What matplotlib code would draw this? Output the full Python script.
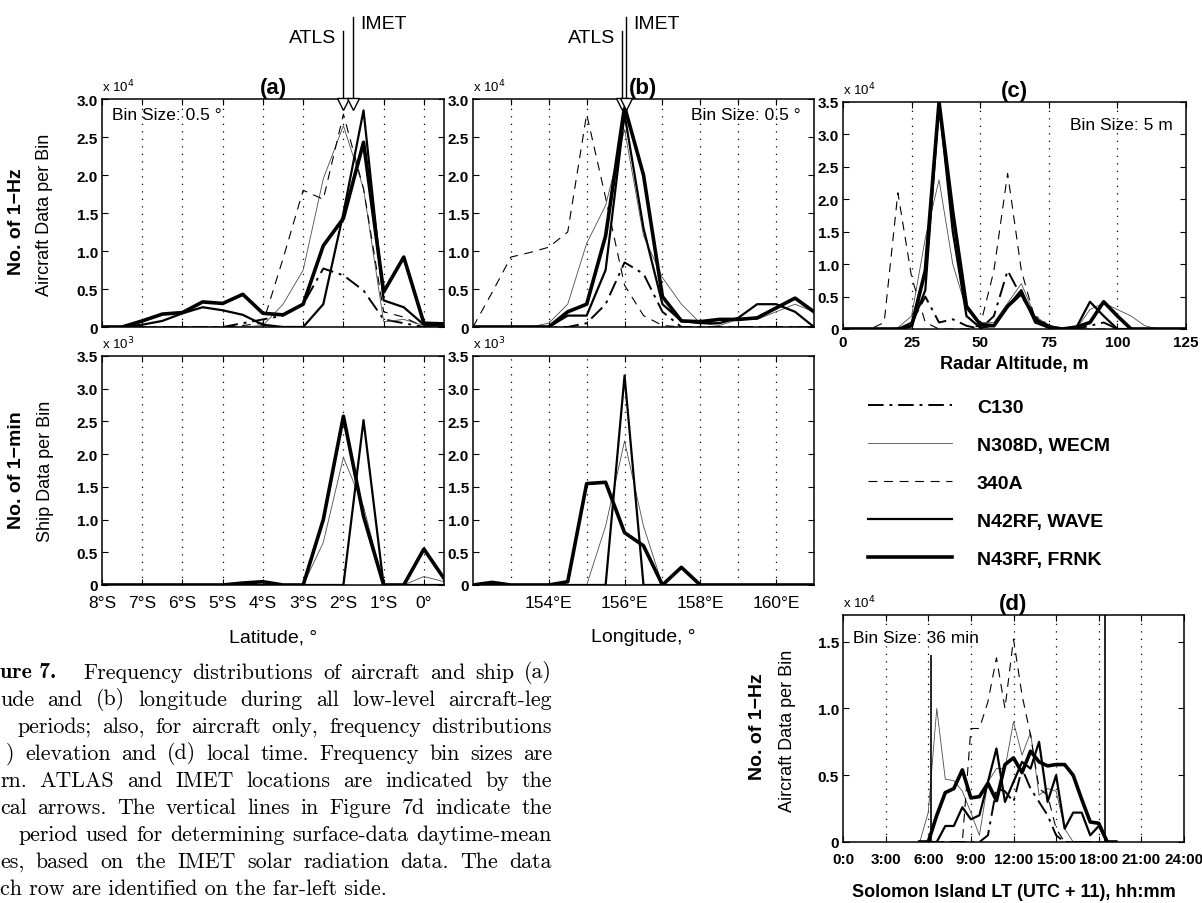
import matplotlib
matplotlib.use('Agg')
import matplotlib.pyplot as plt
import numpy as np

plt.rcParams['font.family'] = ['Liberation Sans', 'DejaVu Sans']

W, H = 1202, 904

# ---------------- data ----------------
names = ['C130', 'N308D, WECM', '340A', 'N42RF, WAVE', 'N43RF, FRNK']

# (a) latitude, aircraft, x10^4 per 0.5 deg bin
lat_bins = [-8, -7.5, -7, -6.5, -6, -5.5, -5, -4.5, -4, -3.5, -3, -2.5, -2, -1.5, -1, -0.5, 0, 0.5]
c130_lat = [0, 0, 0, 0, 0, 0, 0, 0.05, 0.1, 0.15, 0.3, 0.77, 0.68, 0.48, 0.1, 0.05, 0, 0]
n308_lat = [0, 0, 0, 0, 0, 0, 0, 0, 0.02, 0.3, 0.75, 1.95, 2.65, 1.82, 0.07, 0.1, 0.02, 0]
a340_lat = [0, 0, 0, 0, 0, 0, 0, 0.02, 0.05, 0.9, 1.8, 1.68, 2.8, 1.82, 0.2, 0.13, 0, 0]
n42_lat = [0, 0, 0.03, 0.08, 0.18, 0.26, 0.22, 0.16, 0.03, 0, 0, 0.3, 1.5, 2.85, 0.35, 0.26, 0.03, 0.02]
n43_lat = [0, 0, 0.08, 0.17, 0.19, 0.33, 0.31, 0.43, 0.18, 0.16, 0.3, 1.07, 1.43, 2.43, 0.46, 0.92, 0.05, 0.04]

# (b) longitude, aircraft, x10^4
lon_bins = [152, 152.5, 153, 153.5, 154, 154.5, 155, 155.5, 156, 156.5, 157, 157.5,
            158, 158.5, 159, 159.5, 160, 160.5, 161]
c130_lon = [0, 0, 0, 0, 0, 0, 0.05, 0.3, 0.85, 0.7, 0.2, 0, 0, 0, 0, 0, 0, 0, 0]
n308_lon = [0, 0, 0, 0, 0.05, 0.3, 1.1, 1.6, 2.6, 1.2, 0.65, 0.3, 0.05, 0.02, 0.1, 0.1, 0.2, 0.3, 0.2]
a340_lon = [0, 0.45, 0.92, 0.98, 1.05, 1.25, 2.8, 1.7, 0.55, 0.15, 0.02, 0, 0, 0, 0, 0, 0, 0, 0]
n42_lon = [0, 0, 0, 0, 0, 0.15, 0.15, 0.75, 2.8, 1.3, 0.3, 0.08, 0.05, 0.05, 0.12, 0.3, 0.3, 0.2, 0]
n43_lon = [0, 0, 0, 0, 0, 0.2, 0.3, 1.2, 2.9, 2.0, 0.4, 0.08, 0.07, 0.1, 0.1, 0.12, 0.25, 0.38, 0.2]

# (c) radar altitude, aircraft, x10^4 per 5 m bin
alt_bins = [0, 5, 10, 15, 20, 25, 30, 35, 40, 45, 50, 55, 60, 65, 70, 75, 80, 85, 90, 95,
            100, 105, 110, 115, 120, 125]
c130_alt = [0, 0, 0, 0, 0, 0.1, 0.5, 0.1, 0.15, 0.05, 0, 0.2, 0.9, 0.5, 0.2, 0.05, 0, 0,
            0.05, 0.1, 0, 0, 0, 0, 0, 0]
n308_alt = [0, 0, 0, 0, 0.02, 0.2, 1.4, 2.3, 1.0, 0.3, 0.1, 0.1, 0.4, 0.7, 0.2, 0.05, 0, 0,
            0.3, 0.4, 0.3, 0.2, 0.05, 0, 0, 0]
a340_alt = [0, 0, 0, 0.1, 2.1, 0.8, 0.1, 0, 0, 0, 0.05, 0.9, 2.4, 0.9, 0.15, 0, 0, 0,
            0, 0, 0, 0, 0, 0, 0, 0]
n42_alt = [0, 0, 0, 0, 0, 0.05, 0.6, 3.5, 1.5, 0.2, 0.02, 0.05, 0.35, 0.6, 0.1, 0.02, 0, 0.02,
           0.42, 0.2, 0, 0, 0, 0, 0, 0]
n43_alt = [0, 0, 0, 0, 0, 0.05, 0.9, 3.5, 1.8, 0.35, 0.07, 0.05, 0.35, 0.55, 0.15, 0.03, 0, 0.03,
           0.1, 0.42, 0.2, 0, 0, 0, 0, 0]

# ship data, x10^3 per bin (three ship traces: thin / medium / thick)
ship_thin_lat = [0, 0, 0, 0, 0, 0, 0, 0, 0, 0, 0, 0.65, 1.95, 1.2, 0, 0, 0.13, 0.05]
ship_mid_lat = [0, 0, 0, 0, 0, 0, 0, 0, 0, 0, 0, 0, 0, 2.52, 0, 0, 0, 0]
ship_thick_lat = [0, 0, 0, 0, 0, 0, 0, 0.03, 0.05, 0, 0, 1.0, 2.58, 1.05, 0, 0, 0.55, 0.1]
ship_thin_lon = [0, 0, 0, 0, 0, 0, 0, 0.9, 2.2, 0.9, 0, 0, 0, 0, 0, 0, 0, 0, 0]
ship_mid_lon = [0, 0, 0, 0, 0, 0, 0, 0, 3.2, 0, 0, 0, 0, 0, 0, 0, 0, 0, 0]
ship_thick_lon = [0, 0.04, 0, 0, 0, 0.05, 1.55, 1.57, 0.8, 0.6, 0, 0.27, 0, 0, 0, 0, 0, 0, 0]

# (d) local time (hours), aircraft, x10^4 per 36 min bin
time_bins = [5.4, 6.0, 6.6, 7.2, 7.8, 8.4, 9.0, 9.6, 10.2, 10.8, 11.4, 12.0, 12.6, 13.2,
             13.8, 14.4, 15.0, 15.6, 16.2, 16.8, 17.4, 18.0, 18.6, 19.2]
c130_t = [0, 0, 0, 0, 0, 0, 0, 0, 0.05, 0.4, 0.38, 0.3, 0.55, 0.4, 0.3, 0.2, 0.05, 0, 0, 0, 0, 0, 0, 0]
n308_t = [0, 0.22, 1.0, 0.47, 0.46, 0.38, 0.22, 0.05, 0.45, 0.55, 0.55, 0.9, 0.65, 0.82,
          0.35, 0.4, 0.38, 0.1, 0, 0, 0, 0, 0, 0]
a340_t = [0, 0, 0, 0, 0, 0, 0.85, 0.85, 1.05, 1.38, 1.0, 1.52, 1.1, 0.8, 0.4, 0.35, 0.1, 0,
          0, 0, 0, 0, 0, 0]
n42_t = [0, 0, 0, 0.12, 0.12, 0.26, 0.17, 0.2, 0.45, 0.7, 0.3, 0.45, 0.6, 0.55, 0.75, 0.3,
         0.5, 0.1, 0.22, 0.22, 0.05, 0.12, 0, 0]
n43_t = [0, 0, 0.2, 0.37, 0.4, 0.54, 0.33, 0.34, 0.44, 0.31, 0.58, 0.63, 0.52, 0.68, 0.6,
         0.57, 0.58, 0.58, 0.5, 0.32, 0.15, 0.14, 0, 0]
day_start, day_start_top, day_end = 6.2, 1.4, 18.45

atls_lat, imet_lat = -2.0, -1.75
atls_lon, imet_lon = 155.94, 156.04

# ---------------- styles ----------------
styles = [
    dict(color='k', lw=1.4, ls=(0, (8, 3, 1.5, 3))),   # C130
    dict(color='0.3', lw=0.6, ls='-'),                 # N308D
    dict(color='k', lw=0.8, ls=(0, (8, 6))),           # 340A
    dict(color='k', lw=1.6, ls='-'),                   # N42RF
    dict(color='k', lw=2.6, ls='-'),                   # N43RF
]
ship_styles = [styles[1], styles[3], styles[4]]
DOT = (0, (1, 5))

fig = plt.figure(figsize=(W / 100, H / 100), dpi=100)


def px_axes(l, t, r, b):
    return fig.add_axes([l / W, 1 - b / H, (r - l) / W, (b - t) / H])


def dress(ax, xlim, ylim, yticks, xgrid, xticks=None, xlabels=None, mult=None):
    ax.set_xlim(*xlim)
    ax.set_ylim(*ylim)
    ax.set_yticks(yticks)
    ax.set_yticklabels(['0' if v == 0 else f'{v:.1f}' for v in yticks],
                       fontsize=11, fontweight='bold')
    ax.set_xticks(xticks if xticks is not None else xgrid)
    if xlabels is None:
        ax.set_xticklabels([])
    else:
        ax.set_xticklabels(xlabels, fontsize=12.5)
    for g in xgrid:
        ax.axvline(g, color='k', lw=0.9, ls=DOT, zorder=0)
    ax.tick_params(direction='in', length=4, width=0.8, top=True, right=True, pad=3)
    ax.tick_params(axis='x', pad=7)
    for s in ax.spines.values():
        s.set_linewidth(1.1)
    if mult:
        ax.text(0.0, 1.02, 'x 10$^{%d}$' % mult, transform=ax.transAxes,
                fontsize=9.5, ha='left', va='bottom')


def station(ax, x, top, label, side):
    tr = ax.get_xaxis_transform()
    ax.plot([x, x], [1.0, top], color='k', lw=1.0, transform=tr, clip_on=False)
    ax.plot([x], [0.978], marker='v', ms=8, mfc='white', mec='k', mew=1.0,
            transform=tr, clip_on=False, zorder=5)
    dx = -5 if side == 'left' else 5
    ax.annotate(label, (x, top - 0.03), xycoords=tr, xytext=(dx, 0), textcoords='offset points',
                ha='right' if side == 'left' else 'left', va='center', fontsize=14,
                annotation_clip=False)


# ---- (a) latitude, aircraft ----
ax_a = px_axes(102, 100, 444, 328)
for vals, st, nm in zip([c130_lat, n308_lat, a340_lat, n42_lat, n43_lat], styles, names):
    ax_a.plot(lat_bins, vals, label=nm, **st)
dress(ax_a, (-8, 0.5), (0, 3.0), [0, 0.5, 1.0, 1.5, 2.0, 2.5, 3.0], range(-7, 1),
      xticks=range(-8, 1), mult=4)
ax_a.text(0.03, 0.93, 'Bin Size: 0.5 °', transform=ax_a.transAxes, fontsize=12.5, va='center')
ax_a.set_title('(a)', fontsize=16, fontweight='bold', pad=4)
station(ax_a, atls_lat, 1.30, 'ATLS', 'left')
station(ax_a, imet_lat, 1.36, 'IMET', 'right')

# ---- (b) longitude, aircraft ----
ax_b = px_axes(473, 100, 814, 328)
for vals, st in zip([c130_lon, n308_lon, a340_lon, n42_lon, n43_lon], styles):
    ax_b.plot(lon_bins, vals, **st)
dress(ax_b, (152, 161), (0, 3.0), [0, 0.5, 1.0, 1.5, 2.0, 2.5, 3.0], range(153, 161), mult=4)
ax_b.text(0.96, 0.93, 'Bin Size: 0.5 °', transform=ax_b.transAxes, fontsize=12.5,
          va='center', ha='right')
ax_b.set_title('(b)', fontsize=16, fontweight='bold', pad=4)
station(ax_b, atls_lon, 1.30, 'ATLS', 'left')
station(ax_b, imet_lon, 1.36, 'IMET', 'right')

# ---- (c) radar altitude ----
ax_c = px_axes(843, 103, 1186, 330)
for vals, st in zip([c130_alt, n308_alt, a340_alt, n42_alt, n43_alt], styles):
    ax_c.plot(alt_bins, vals, **st)
dress(ax_c, (0, 125), (0, 3.5), [0, 0.5, 1.0, 1.5, 2.0, 2.5, 3.0, 3.5], [25, 50, 75, 100],
      xticks=[0, 25, 50, 75, 100, 125], xlabels=['0', '25', '50', '75', '100', '125'], mult=4)
ax_c.tick_params(axis='x', labelsize=11, pad=4)
for t in ax_c.get_xticklabels():
    t.set_fontweight('bold')
ax_c.text(0.96, 0.9, 'Bin Size: 5 m', transform=ax_c.transAxes, fontsize=12.5,
          va='center', ha='right')
ax_c.set_title('(c)', fontsize=16, fontweight='bold', pad=4)
fig.text(1014 / W, 1 - 364 / H, 'Radar Altitude, m', ha='center', va='center',
         fontsize=13, fontweight='bold')

# ---- ship rows ----
ax_sa = px_axes(102, 357, 444, 586)
for vals, st in zip([ship_thin_lat, ship_mid_lat, ship_thick_lat], ship_styles):
    ax_sa.plot(lat_bins, vals, **st)
dress(ax_sa, (-8, 0.5), (0, 3.5), [0, 0.5, 1.0, 1.5, 2.0, 2.5, 3.0, 3.5], range(-7, 1),
      xticks=range(-8, 1),
      xlabels=['8°S', '7°S', '6°S', '5°S', '4°S', '3°S', '2°S', '1°S', '0°'], mult=3)

ax_sb = px_axes(473, 357, 814, 586)
for vals, st in zip([ship_thin_lon, ship_mid_lon, ship_thick_lon], ship_styles):
    ax_sb.plot(lon_bins, vals, **st)
dress(ax_sb, (152, 161), (0, 3.5), [0, 0.5, 1.0, 1.5, 2.0, 2.5, 3.0, 3.5], range(153, 161),
      xticks=[154, 156, 158, 160], xlabels=['154°E', '156°E', '158°E', '160°E'], mult=3)

fig.text(273 / W, 1 - 638 / H, 'Latitude, °', ha='center', va='center', fontsize=14)
fig.text(643 / W, 1 - 638 / H, 'Longitude, °', ha='center', va='center', fontsize=14)

# ---- (d) local time ----
ax_d = px_axes(843, 616, 1184, 843)
for vals, st in zip([c130_t, n308_t, a340_t, n42_t, n43_t], styles):
    ax_d.plot(time_bins, vals, **st)
ax_d.vlines(day_start, 0, day_start_top, color='k', lw=1.2)
ax_d.axvline(day_end, color='k', lw=1.2)
dress(ax_d, (0, 24), (0, 1.7), [0, 0.5, 1.0, 1.5], range(3, 24, 3),
      xticks=range(0, 25, 3),
      xlabels=['0:0', '3:00', '6:00', '9:00', '12:00', '15:00', '18:00', '21:00', '24:00'], mult=4)
ax_d.tick_params(axis='x', labelsize=11, pad=7)
for t in ax_d.get_xticklabels():
    t.set_fontweight('bold')
ax_d.text(0.03, 0.9, 'Bin Size: 36 min', transform=ax_d.transAxes, fontsize=12.5, va='center')
ax_d.set_title('(d)', fontsize=16, fontweight='bold', pad=4)
fig.text(1014 / W, 1 - 893 / H, 'Solomon Island LT (UTC + 11), hh:mm', ha='center',
         va='center', fontsize=13, fontweight='bold')

# ---- row labels ----
row_labels = [
    (17, 222, 'No. of 1−Hz', 14, 'bold'), (45, 215, 'Aircraft Data per Bin', 13, 'normal'),
    (17, 470, 'No. of 1−min', 14, 'bold'), (45, 471, 'Ship Data per Bin', 13, 'normal'),
    (757, 727, 'No. of 1−Hz', 14, 'bold'), (787, 731, 'Aircraft Data per Bin', 13, 'normal'),
]
for x, y, s, fs, fw in row_labels:
    fig.text(x / W, 1 - y / H, s, rotation=90, ha='center', va='center',
             fontsize=fs, fontweight=fw)

# ---- legend ----
handles = ax_a.get_lines()[:5]
fig.legend(handles, names, loc='upper left', bbox_to_anchor=(868 / W, 1 - 399 / H),
           frameon=False, prop={'size': 14, 'weight': 'bold'}, handlelength=4.3,
           handletextpad=1.3, labelspacing=1.05, borderpad=0, borderaxespad=0)

# ---- caption (cut off at the left edge of the scan), justified ----
renderer = fig.canvas.get_renderer()
CAP_FS, CAP_RIGHT, CAP_TOP, CAP_STEP = 15.8, 552, 673, 27
caption = [
    (83, 'Frequency distributions of aircraft and ship (a)'),
    (0, 'ude and (b) longitude during all low-level aircraft-leg'),
    (17, 'periods; also, for aircraft only, frequency distributions'),
    (6, ') elevation and (d) local time. Frequency bin sizes are'),
    (0, 'rn. ATLAS and IMET locations are indicated by the'),
    (0, 'cal arrows. The vertical lines in Figure 7d indicate the'),
    (18, 'period used for determining surface-data daytime-mean'),
    (0, 'es, based on the IMET solar radiation data. The data'),
    (0, 'ch row are identified on the far-left side.'),
]
fig.text(0, 1 - CAP_TOP / H, 'ure 7.', family='cmb10', fontsize=CAP_FS, va='center')
for i, (x0, line) in enumerate(caption):
    y = 1 - (CAP_TOP + CAP_STEP * i) / H
    if i == len(caption) - 1:
        fig.text(x0 / W, y, line, family='cmr10', fontsize=CAP_FS, va='center')
        continue
    words = [fig.text(0, y, w, family='cmr10', fontsize=CAP_FS, va='center')
             for w in line.split()]
    widths = [w.get_window_extent(renderer).width for w in words]
    gap = (CAP_RIGHT - x0 - sum(widths)) / (len(words) - 1)
    xpos = x0
    for w, wd in zip(words, widths):
        w.set_x(xpos / W)
        xpos += wd + gap

fig.savefig('out.png', dpi=100)
